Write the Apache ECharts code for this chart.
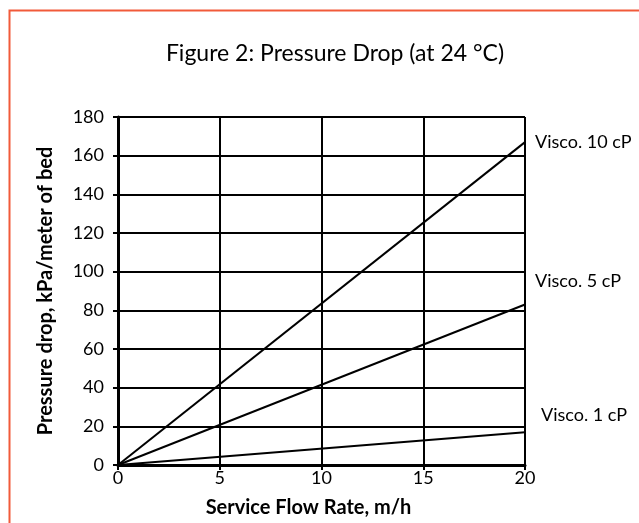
<!DOCTYPE html>
<html><head><meta charset="utf-8">
<script src="https://cdn.jsdelivr.net/npm/echarts@6/dist/echarts.min.js"></script>
<style>html,body{margin:0;padding:0;background:#fff}#c{width:639px;height:523px}</style>
</head><body><div id="c"></div>
<script>
var flowRate = [0, 20];
var visco10 = [0, 167];
var visco5 = [0, 83];
var visco1 = [0, 17];
var seriesNames = ['Visco. 10 cP', 'Visco. 5 cP', 'Visco. 1 cP'];
var yTicks = [0, 20, 40, 60, 80, 100, 120, 140, 160, 180];
var xTicks = [0, 5, 10, 15, 20];

var FONT = 'Lato, "Open Sans", sans-serif';
function mk(name, vals, off) {
  return {
    name: name, type: 'line', symbol: 'none',
    data: flowRate.map(function (x, i) { return [x, vals[i]]; }),
    lineStyle: { color: '#000', width: 2 },
    endLabel: { show: true, formatter: name, color: '#000', fontSize: 18, fontFamily: FONT, offset: off, distance: 10 },
    animation: false
  };
}
var chart = echarts.init(document.getElementById('c'));
chart.setOption({
  animation: false,
  graphic: [{ type: 'rect', shape: { x: 9.5, y: 10.5, width: 700, height: 600 }, style: { fill: 'none', stroke: '#f15a3a', lineWidth: 2 } }],
  title: { text: 'Figure 2: Pressure Drop (at 24 °C)', left: 330, textAlign: 'center', top: 37, textStyle: { fontFamily: FONT, fontSize: 23, fontWeight: 'normal', color: '#000' } },
  grid: { left: 118, right: 114, top: 117, bottom: 58 },
  xAxis: {
    type: 'value', min: 0, max: 20, interval: 5,
    name: 'Service Flow Rate, m/h', nameLocation: 'middle', nameGap: 33,
    nameTextStyle: { fontFamily: FONT, fontSize: 20, fontWeight: 'bold', color: '#000', padding: [0, 26, 0, 0] },
    axisLine: { show: true, lineStyle: { color: '#000', width: 3 } },
    axisTick: { show: true, length: 5, lineStyle: { color: '#000', width: 2 } },
    axisLabel: { fontFamily: FONT, fontSize: 18, color: '#000', margin: 4 },
    splitLine: { show: true, lineStyle: { color: '#000', width: 2 } }
  },
  yAxis: {
    type: 'value', min: 0, max: 180, interval: 20,
    name: 'Pressure drop, kPa/meter of bed', nameLocation: 'middle', nameGap: 62,
    nameTextStyle: { fontFamily: FONT, fontSize: 20, fontWeight: 'bold', color: '#000' },
    axisLine: { show: true, lineStyle: { color: '#000', width: 3 } },
    axisTick: { show: true, length: 5, lineStyle: { color: '#000', width: 2 } },
    axisLabel: { fontFamily: FONT, fontSize: 18, color: '#000', margin: 14 },
    splitLine: { show: true, lineStyle: { color: '#000', width: 2 } }
  },
  series: [
    mk(seriesNames[0], visco10, [0, 0]),
    mk(seriesNames[1], visco5, [0, -23]),
    mk(seriesNames[2], visco1, [6, -17])
  ]
});
</script></body></html>
